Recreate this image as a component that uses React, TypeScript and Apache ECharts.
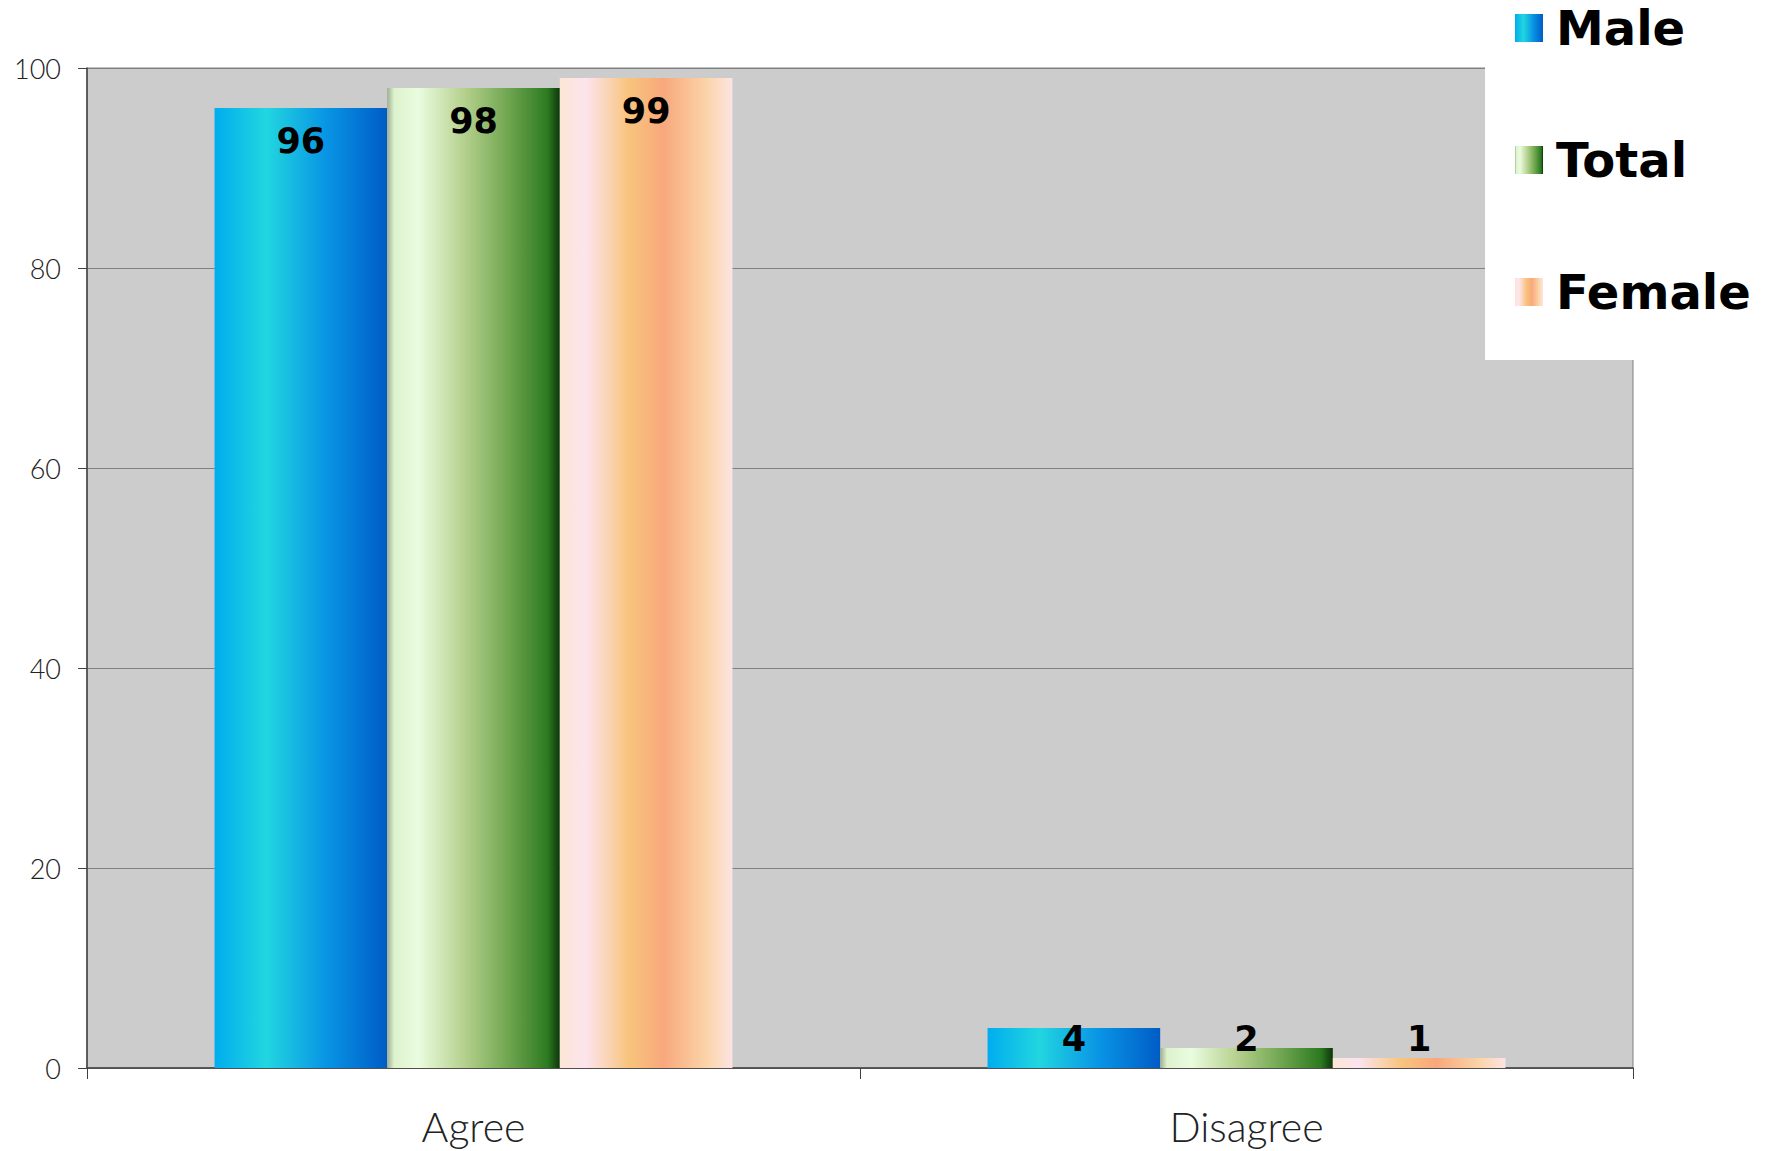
import React, { useEffect, useRef } from "react";
import * as echarts from "echarts";

const categories = ["Agree", "Disagree"];
const seriesNames = ["Male", "Total", "Female"];
const maleValues = [96, 4];
const totalValues = [98, 2];
const femaleValues = [99, 1];
const yTicks = { min: 0, max: 100, interval: 20 };

const grad = (stops: [number, string][]) =>
  new echarts.graphic.LinearGradient(
    0,
    0,
    1,
    0,
    stops.map(([offset, color]) => ({ offset, color }))
  );

const maleGrad = () =>
  grad([
    [0, "#00ADEE"],
    [0.3, "#22D6E0"],
    [0.65, "#0894E4"],
    [1, "#005CC6"],
  ]);
const totalGrad = () =>
  grad([
    [0, "#9EAE92"],
    [0.04, "#DDF2CE"],
    [0.18, "#EAFCDF"],
    [0.45, "#B4D08C"],
    [0.7, "#70A650"],
    [0.93, "#2C7A20"],
    [1, "#0C360C"],
  ]);
const femaleGrad = () =>
  grad([
    [0, "#FCE6D4"],
    [0.15, "#FCE4EE"],
    [0.4, "#F8C47C"],
    [0.6, "#F8A87C"],
    [0.85, "#FBD4A8"],
    [1, "#FCE4E2"],
  ]);

const makeData = (vals: number[]) =>
  vals.map((v) => ({
    value: v,
    label:
      v >= 10
        ? { position: "insideTop", distance: 15 }
        : { position: "insideBottom", distance: 12 },
  }));

export default function App() {
  const ref = useRef<HTMLDivElement>(null);
  useEffect(() => {
    if (!ref.current) return;
    const chart = echarts.init(ref.current, undefined, { renderer: "svg" });
    const labelStyle = {
      show: true,
      fontFamily: "DejaVu Sans",
      fontWeight: "bold",
      fontSize: 35,
      lineHeight: 35,
      color: "#000",
    };
    const allValues = [maleValues, totalValues, femaleValues];
    const grads = [maleGrad, totalGrad, femaleGrad];
    chart.setOption({
      animation: false,
      backgroundColor: "#ffffff",
      grid: {
        left: 87,
        top: 68,
        width: 1546,
        height: 1000,
        show: true,
        backgroundColor: "#CCCCCC",
        borderColor: "#808080",
        borderWidth: 1,
        containLabel: false,
      },
      legend: {
        orient: "vertical",
        left: 1515,
        top: 4,
        padding: 0,
        z: 10,
        itemWidth: 28,
        itemHeight: 28,
        itemGap: 84,
        icon: "rect",
        data: seriesNames,
        textStyle: {
          fontFamily: "DejaVu Sans",
          fontWeight: "bold",
          fontSize: 48,
          lineHeight: 48,
          color: "#000",
          padding: [0, 0, 0, 8],
        },
      },
      graphic: [
        {
          type: "rect",
          z: 3,
          shape: { x: 1485, y: 0, width: 288, height: 360 },
          style: { fill: "#ffffff" },
        },
      ],
      xAxis: {
        type: "category",
        data: categories,
        axisLine: { show: true, lineStyle: { color: "#404040", width: 1.5 } },
        axisTick: {
          show: true,
          alignWithLabel: false,
          length: 11,
          lineStyle: { color: "#404040" },
        },
        axisLabel: {
          fontFamily: "Lato",
          fontWeight: 300,
          fontSize: 41,
          lineHeight: 40,
          color: "#222",
          margin: 38,
        },
      },
      yAxis: {
        type: "value",
        min: yTicks.min,
        max: yTicks.max,
        interval: yTicks.interval,
        axisLine: { show: true, lineStyle: { color: "#404040", width: 1.5 } },
        axisTick: { show: true, length: 9, lineStyle: { color: "#404040" } },
        splitLine: { show: true, lineStyle: { color: "#808080", width: 1 } },
        axisLabel: {
          fontFamily: "Lato",
          fontWeight: 300,
          fontSize: 27,
          color: "#222",
          margin: 26,
        },
      },
      series: seriesNames.map((name, i) => ({
        name,
        type: "bar",
        barGap: "0%",
        barCategoryGap: "33%",
        data: makeData(allValues[i]),
        itemStyle: { color: grads[i]() },
        label: labelStyle,
      })),
    });
    return () => chart.dispose();
  }, []);
  return (
    <div
      ref={ref}
      style={{ position: "fixed", left: 0, top: 0, width: 1773, height: 1151 }}
    />
  );
}
